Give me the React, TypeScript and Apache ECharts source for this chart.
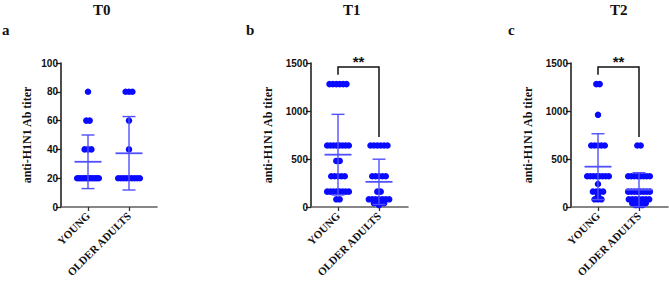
import React, { useEffect, useRef } from "react";
import * as echarts from "echarts";

// ---------- data ----------
const CATEGORIES = ["YOUNG", "OLDER ADULTS"];
const PANEL_TITLES = ["T0", "T1", "T2"];
const PANEL_LETTERS = ["a", "b", "c"];
const Y_AXIS_NAME = "anti-H1N1 Ab titer";

const T0_Y_MAX = 100;
const T0_Y_INTERVAL = 20;
const T12_Y_MAX = 1500;
const T12_Y_INTERVAL = 500;

// titer levels and number of subjects at each level
const T0_YOUNG_LEVELS = [80, 60, 40, 20];
const T0_YOUNG_COUNTS = [1, 2, 3, 12];
const T0_OLDER_LEVELS = [80, 60, 40, 20];
const T0_OLDER_COUNTS = [3, 1, 1, 9];

const T1_YOUNG_LEVELS = [1280, 640, 480, 320, 160, 80];
const T1_YOUNG_COUNTS = [6, 8, 2, 5, 8, 2];
const T1_OLDER_LEVELS = [640, 320, 160, 80, 40, 20];
const T1_OLDER_COUNTS = [6, 5, 2, 7, 4, 1];

const T2_YOUNG_LEVELS = [1280, 960, 640, 320, 240, 160, 120, 80];
const T2_YOUNG_COUNTS = [2, 1, 5, 8, 1, 4, 1, 3];
const T2_OLDER_LEVELS = [640, 320, 160, 80, 40, 20];
const T2_OLDER_COUNTS = [2, 8, 8, 7, 5, 3];

// mean and SD per group [young, older]
const T0_MEAN = [31.4, 37.3];
const T0_SD = [18.6, 25.5];
const T1_MEAN = [545, 262];
const T1_SD = [420, 236];
const T2_MEAN = [420, 180];
const T2_SD = [343, 177];

// significance brackets: [top, left leg end, right leg end]
const T1_BRACKET = [1458, 1378, 730];
const T2_BRACKET = [1458, 1378, 730];
const SIG_LABEL = "**";

// ---------- layout / style ----------
const W = 669;
const H = 282;
const GRID_TOP = 63;
const GRID_H = 144;
const PX_PER_UNIT = 41;
const X_MIN = -27 / PX_PER_UNIT;
const GRIDS = [
  { left: 61, width: 96 },
  { left: 311, width: 97 },
  { left: 571, width: 97 },
];
const NAME_GAPS = [28, 37, 37];
const TITLE_X = [102, 352, 619];
const LETTER_X = [6, 250, 512];

const DOT_COLOR = "#0a0aff";
const BAR_COLOR = "#5050ff";
const DOT_SIZE = 6.5;
const DOT_STEP_PX = 3.4;
const ROW_MAX_PX = 21.7;

function buildDots(levels: number[], counts: number[], group: number) {
  const pts: number[][] = [];
  levels.forEach((v, i) => {
    const n = counts[i];
    const step = n > 1 ? Math.min(DOT_STEP_PX, ROW_MAX_PX / (n - 1)) : 0;
    for (let k = 0; k < n; k++) {
      const off = (k - (n - 1) / 2) * step;
      pts.push([group + off / PX_PER_UNIT, v]);
    }
  });
  return pts;
}

const PANELS = [
  {
    yMax: T0_Y_MAX,
    yInterval: T0_Y_INTERVAL,
    dots: [
      buildDots(T0_YOUNG_LEVELS, T0_YOUNG_COUNTS, 0),
      buildDots(T0_OLDER_LEVELS, T0_OLDER_COUNTS, 1),
    ],
    mean: T0_MEAN,
    sd: T0_SD,
    bracket: null as number[] | null,
  },
  {
    yMax: T12_Y_MAX,
    yInterval: T12_Y_INTERVAL,
    dots: [
      buildDots(T1_YOUNG_LEVELS, T1_YOUNG_COUNTS, 0),
      buildDots(T1_OLDER_LEVELS, T1_OLDER_COUNTS, 1),
    ],
    mean: T1_MEAN,
    sd: T1_SD,
    bracket: T1_BRACKET,
  },
  {
    yMax: T12_Y_MAX,
    yInterval: T12_Y_INTERVAL,
    dots: [
      buildDots(T2_YOUNG_LEVELS, T2_YOUNG_COUNTS, 0),
      buildDots(T2_OLDER_LEVELS, T2_OLDER_COUNTS, 1),
    ],
    mean: T2_MEAN,
    sd: T2_SD,
    bracket: T2_BRACKET,
  },
];

function buildOption() {
  const grid: any[] = [];
  const xAxis: any[] = [];
  const yAxis: any[] = [];
  const series: any[] = [];
  const graphic: any[] = [];

  PANELS.forEach((p, i) => {
    const g = GRIDS[i];
    grid.push({ left: g.left, top: GRID_TOP, width: g.width, height: GRID_H, containLabel: false });
    xAxis.push({
      type: "value",
      gridIndex: i,
      min: X_MIN,
      max: X_MIN + g.width / PX_PER_UNIT,
      splitLine: { show: false },
      axisLine: { show: true, onZero: false, lineStyle: { color: "#5f5f5f", width: 1.6 } },
      axisTick: { show: true, customValues: [0, 1], length: 4, lineStyle: { color: "#333", width: 1.3 } },
      axisLabel: {
        show: true,
        customValues: [0, 1],
        formatter: (v: number) => CATEGORIES[Math.round(v)] ?? "",
        rotate: 45,
        margin: 7,
        color: "#111",
        fontFamily: "Liberation Serif",
        fontWeight: 700,
        fontSize: 11,
      },
    });
    yAxis.push({
      type: "value",
      gridIndex: i,
      min: 0,
      max: p.yMax,
      interval: p.yInterval,
      splitLine: { show: false },
      axisLine: { show: true, onZero: false, lineStyle: { color: "#222", width: 1.6 } },
      axisTick: { show: true, length: 5, lineStyle: { color: "#222", width: 1.3 } },
      axisLabel: {
        margin: 3,
        color: "#111",
        fontFamily: "Liberation Sans",
        fontWeight: 700,
        fontSize: 10,
        formatter: (v: number) => String(v),
      },
      name: Y_AXIS_NAME,
      nameLocation: "middle",
      nameRotate: 90,
      nameGap: NAME_GAPS[i],
      nameTextStyle: {
        color: "#111",
        fontFamily: "Liberation Serif",
        fontWeight: 700,
        fontSize: 12,
      },
    });

    p.dots.forEach((d, gi) => {
      series.push({
        type: "scatter",
        name: CATEGORIES[gi],
        xAxisIndex: i,
        yAxisIndex: i,
        data: d,
        symbol: "circle",
        symbolSize: DOT_SIZE,
        itemStyle: { color: DOT_COLOR, opacity: 1 },
        z: 2,
      });
    });

    series.push({
      type: "custom",
      xAxisIndex: i,
      yAxisIndex: i,
      z: 3,
      data: p.mean.map((m, gi) => [gi, m, p.sd[gi]]),
      renderItem: (params: any, api: any) => {
        const x = api.value(0);
        const m = api.value(1);
        const s = api.value(2);
        const c = api.coord([x, m]);
        const t = api.coord([x, m + s]);
        const b = api.coord([x, Math.max(0, m - s)]);
        const style = { stroke: BAR_COLOR, lineWidth: 1.4 };
        return {
          type: "group",
          children: [
            { type: "line", shape: { x1: c[0] - 13.5, y1: c[1], x2: c[0] + 13.5, y2: c[1] }, style: { stroke: BAR_COLOR, lineWidth: 1.8 } },
            { type: "line", shape: { x1: t[0], y1: t[1], x2: b[0], y2: b[1] }, style },
            { type: "line", shape: { x1: t[0] - 6.5, y1: t[1], x2: t[0] + 6.5, y2: t[1] }, style },
            { type: "line", shape: { x1: b[0] - 6.5, y1: b[1], x2: b[0] + 6.5, y2: b[1] }, style },
          ],
        };
      },
    });

    if (p.bracket) {
      series.push({
        type: "custom",
        xAxisIndex: i,
        yAxisIndex: i,
        z: 4,
        data: [[0, 1, p.bracket[0], p.bracket[1], p.bracket[2]]],
        renderItem: (params: any, api: any) => {
          const x0 = api.value(0);
          const x1 = api.value(1);
          const top = api.value(2);
          const lEnd = api.value(3);
          const rEnd = api.value(4);
          const a = api.coord([x0, lEnd]);
          const b = api.coord([x0, top]);
          const c = api.coord([x1, top]);
          const d = api.coord([x1, rEnd]);
          return {
            type: "group",
            children: [
              {
                type: "polyline",
                shape: { points: [a, b, c, d] },
                style: { stroke: "#111", lineWidth: 1.5, fill: "none" },
              },
              {
                type: "text",
                style: {
                  text: SIG_LABEL,
                  x: (b[0] + c[0]) / 2,
                  y: b[1] - 6,
                  align: "center",
                  textAlign: "center",
                  verticalAlign: "middle",
                  textVerticalAlign: "middle",
                  font: "bold 15px 'Liberation Sans'",
                  fill: "#111",
                },
              },
            ],
          };
        },
      });
    }

    graphic.push({
      type: "text",
      left: TITLE_X[i] - 9,
      top: 2,
      style: {
        text: PANEL_TITLES[i],
        font: "bold 15px 'Liberation Serif'",
        fill: "#111",
      },
    });
    graphic.push({
      type: "text",
      left: LETTER_X[i] - 4,
      top: 22,
      style: {
        text: PANEL_LETTERS[i],
        font: "bold 15px 'Liberation Serif'",
        fill: "#111",
      },
    });
  });

  return {
    animation: false,
    backgroundColor: "#ffffff",
    grid,
    xAxis,
    yAxis,
    series,
    graphic,
  };
}

export default function App() {
  const ref = useRef<HTMLDivElement>(null);
  useEffect(() => {
    if (!ref.current) return;
    const chart = echarts.init(ref.current, null, { renderer: "svg", width: W, height: H });
    chart.setOption(buildOption() as any);
    return () => chart.dispose();
  }, []);
  return (
    <div
      ref={ref}
      style={{ position: "fixed", left: 0, top: 0, width: W, height: H, background: "#fff" }}
    />
  );
}
